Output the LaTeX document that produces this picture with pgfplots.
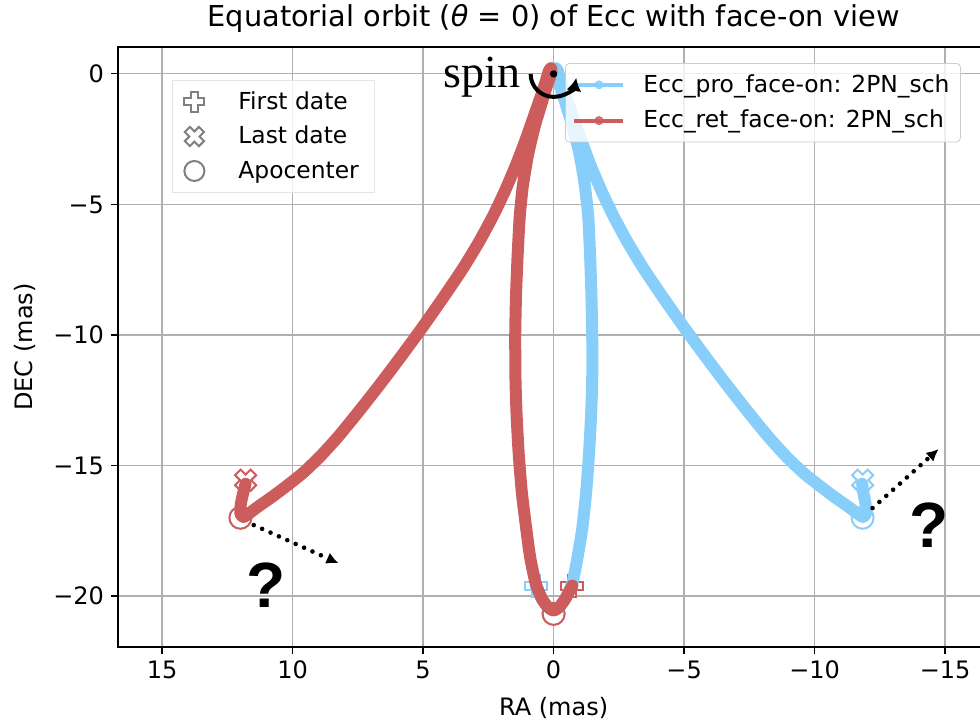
\documentclass[border=0pt]{standalone}
\usepackage{pgfplots}
\pgfplotsset{compat=1.18}
\usepackage{fontspec}
\setmainfont{DejaVu Sans}
\newfontfamily\spinfont{Liberation Serif}
\newfontfamily\qfont{Liberation Sans}
\usetikzlibrary{arrows.meta}
\definecolor{skyb}{RGB}{135,206,250}
\definecolor{indr}{RGB}{205,92,92}
\definecolor{mgray}{RGB}{128,128,128}

\pgfdeclareplotmark{Pplus}{%
  \pgfpathmoveto{\pgfqpoint{-0.36\pgfplotmarksize}{\pgfplotmarksize}}%
  \pgfpathlineto{\pgfqpoint{0.36\pgfplotmarksize}{\pgfplotmarksize}}%
  \pgfpathlineto{\pgfqpoint{0.36\pgfplotmarksize}{0.36\pgfplotmarksize}}%
  \pgfpathlineto{\pgfqpoint{\pgfplotmarksize}{0.36\pgfplotmarksize}}%
  \pgfpathlineto{\pgfqpoint{\pgfplotmarksize}{-0.36\pgfplotmarksize}}%
  \pgfpathlineto{\pgfqpoint{0.36\pgfplotmarksize}{-0.36\pgfplotmarksize}}%
  \pgfpathlineto{\pgfqpoint{0.36\pgfplotmarksize}{-\pgfplotmarksize}}%
  \pgfpathlineto{\pgfqpoint{-0.36\pgfplotmarksize}{-\pgfplotmarksize}}%
  \pgfpathlineto{\pgfqpoint{-0.36\pgfplotmarksize}{-0.36\pgfplotmarksize}}%
  \pgfpathlineto{\pgfqpoint{-\pgfplotmarksize}{-0.36\pgfplotmarksize}}%
  \pgfpathlineto{\pgfqpoint{-\pgfplotmarksize}{0.36\pgfplotmarksize}}%
  \pgfpathlineto{\pgfqpoint{-0.36\pgfplotmarksize}{0.36\pgfplotmarksize}}%
  \pgfpathclose
  \pgfusepathqfillstroke}
\pgfdeclareplotmark{Xcross}{\pgftransformrotate{45}\pgfuseplotmark{Pplus}}

\pgfplotstableread{
x y
0.69 -19.6
0.45 -20.1
0.22 -20.42
0 -20.55
-0.22 -20.42
-0.45 -20.1
-0.72 -19.5
-0.92 -18.5
-1.1 -17.4
-1.25 -16.0
-1.36 -14.5
-1.44 -13.0
-1.48 -11.7
-1.48 -10.0
-1.45 -8.5
-1.4 -7.0
-1.33 -5.5
-1.2 -4.3
-1.0 -3.1
-0.72 -2.0
-0.45 -1.1
-0.22 -0.4
-0.06 0.05
-0.08 0.22
-0.16 0.12
-0.3 -0.35
-0.5 -0.95
-0.78 -1.75
-1.08 -2.6
-1.42 -3.51
-1.82 -4.45
-2.27 -5.4
-2.82 -6.42
-3.47 -7.49
-4.22 -8.6
-5.02 -9.74
-5.82 -10.83
-6.62 -11.89
-7.42 -12.91
-8.22 -13.89
-8.92 -14.66
-9.57 -15.28
-10.17 -15.76
-10.77 -16.21
-11.27 -16.56
-11.62 -16.82
-11.85 -16.97
-11.97 -16.85
-11.95 -16.45
-11.86 -16.0
-11.82 -15.7
}\pro

\pgfplotstableread{
x y
-0.72 -19.6
-0.45 -20.1
-0.22 -20.42
0 -20.55
0.22 -20.42
0.45 -20.1
0.69 -19.5
0.9 -18.5
1.05 -17.4
1.22 -16.0
1.34 -14.5
1.42 -13.0
1.46 -11.7
1.47 -10.0
1.44 -8.5
1.38 -7.0
1.3 -5.5
1.18 -4.3
0.98 -3.1
0.72 -2.0
0.45 -1.1
0.24 -0.4
0.08 0.05
0.1 0.22
0.18 0.12
0.32 -0.35
0.52 -0.95
0.8 -1.75
1.1 -2.6
1.45 -3.51
1.85 -4.45
2.3 -5.4
2.85 -6.42
3.5 -7.49
4.25 -8.6
5.05 -9.74
5.85 -10.83
6.65 -11.89
7.45 -12.91
8.25 -13.89
8.95 -14.66
9.6 -15.28
10.2 -15.76
10.8 -16.21
11.3 -16.56
11.65 -16.82
11.88 -16.97
12.0 -16.85
11.98 -16.45
11.88 -16.0
11.8 -15.7
}\ret

\begin{document}
\begin{tikzpicture}
\begin{axis}[
  scale only axis, width=435.6pt, height=300pt,
  x dir=reverse,
  xmin=-16.69, xmax=16.69, ymin=-21.95, ymax=1.03,
  clip marker paths=true,
  font=\fontsize{12}{14.4}\selectfont,
  xtick={-15,-10,-5,0,5,10,15},
  xticklabels={−15,−10,−5,0,5,10,15},
  ytick={-20,-15,-10,-5,0},
  yticklabels={−20,−15,−10,−5,0},
  xtick pos=left,
  tick align=outside,
  major tick length=3.5pt,
  every tick/.style={black, line width=0.6pt},
  axis line style={line width=0.7pt},
  grid=major,
  grid style={line width=0.6pt, color=black!31},
  title={Equatorial orbit ({\itshape θ} = 0) of Ecc with face-on view},
  every axis title shift=0pt,
  every axis title/.style={at={(axis description cs:0.5,1)}, anchor=center, yshift=14.5pt, font=\fontsize{14.4}{17}\selectfont},
  xlabel={RA (mas)},
  every axis x label/.style={at={(axis description cs:0.5,0)}, anchor=center, yshift=-30.5pt},
  ylabel={DEC (mas)},
  every axis y label/.style={at={(axis description cs:0,0.5)}, anchor=center, xshift=-46.5pt, rotate=90},
  legend style={at={(axis description cs:0.5132,0.9733)}, anchor=north west,
    draw=black!20, rounded corners=2pt, fill=white, fill opacity=0.8, text opacity=1,
    inner xsep=3.5pt, inner ysep=3.5pt, row sep=3.5pt, column sep=7pt,
    font=\fontsize{11.7}{14}\selectfont},
  legend cell align=left,
]
% markers (below lines)
\addplot[only marks, mark=Pplus, mark size=5.5pt, draw=skyb, fill=white, line width=1pt, forget plot] coordinates {(0.69,-19.6)};
\addplot[only marks, mark=Pplus, mark size=5.5pt, draw=indr, fill=white, line width=1pt, forget plot] coordinates {(-0.72,-19.6)};
\addplot[only marks, mark=Xcross, mark size=5.5pt, draw=skyb, fill=white, line width=1pt, forget plot] coordinates {(-11.84,-15.56)};
\addplot[only marks, mark=Xcross, mark size=5.5pt, draw=indr, fill=white, line width=1pt, forget plot] coordinates {(11.8,-15.56)};
\addplot[only marks, mark=*, mark size=5.5pt, draw=skyb, fill=white, line width=1pt, forget plot] coordinates {(-11.84,-17.0) (0,-20.68)};
\addplot[only marks, mark=*, mark size=5.5pt, draw=indr, fill=white, line width=1pt, forget plot] coordinates {(12.0,-17.0) (0,-20.68)};
% orbits
\addplot[skyb, line width=6pt, line join=round, line cap=round, smooth, tension=0.35, forget plot] table {\pro};
\addplot[indr, line width=6pt, line join=round, line cap=round, smooth, tension=0.35, forget plot] table {\ret};
\addplot[only marks, mark=*, mark size=1.6pt, black, forget plot] coordinates {(0,0)};
% legend entries
\addlegendimage{legend image code/.code={\draw[skyb, line width=2pt] (0pt,0pt) -- (24.5pt,0pt); \fill[skyb] (12.25pt,0pt) circle (2pt);}}
\addlegendentry{Ecc\_pro\_face-on: 2PN\_sch}
\addlegendimage{legend image code/.code={\draw[indr, line width=2pt] (0pt,0pt) -- (24.5pt,0pt); \fill[indr] (12.25pt,0pt) circle (2pt);}}
\addlegendentry{Ecc\_ret\_face-on: 2PN\_sch}
\coordinate (O) at (axis cs:0,0);
\coordinate (S) at (axis cs:1.26,-0.54);
\coordinate (A1) at (axis cs:11.49,-17.28);
\coordinate (A2) at (axis cs:8.24,-18.74);
\coordinate (B1) at (axis cs:-12.22,-16.63);
\coordinate (B2) at (axis cs:-14.75,-14.37);
\coordinate (Q1) at (axis cs:11.03,-20.42);
\coordinate (Q2) at (axis cs:-14.37,-18.12);
\end{axis}
\begin{axis}[
  scale only axis, width=435.6pt, height=300pt,
  x dir=reverse,
  xmin=-16.69, xmax=16.69, ymin=-21.95, ymax=1.03,
  hide axis,
  legend style={at={(axis description cs:0.062,0.945)}, anchor=north west,
    draw=black!10, fill=white, fill opacity=0.8, text opacity=1,
    inner xsep=6pt, inner ysep=3.5pt, row sep=3pt, column sep=15pt,
    font=\fontsize{11.7}{14}\selectfont},
  legend cell align=left,
]
\addlegendimage{only marks, mark=Pplus, mark size=5pt, draw=mgray, fill=white, line width=1pt}
\addlegendentry{First date}
\addlegendimage{only marks, mark=Xcross, mark size=5pt, draw=mgray, fill=white, line width=1pt}
\addlegendentry{Last date}
\addlegendimage{only marks, mark=*, mark size=5pt, draw=mgray, fill=white, line width=1pt}
\addlegendentry{Apocenter}
\end{axis}
% annotations
\node[anchor=base east, font=\spinfont\fontsize{23}{23}\selectfont, inner sep=0pt] at (S) {spin};
\draw[line width=2pt, -{Latex[length=6.5pt,width=7.5pt]}] ([xshift=-11.5pt]O) arc[start angle=180, end angle=350, radius=11.5pt];
\draw[line width=2.3pt, line cap=round, dash pattern=on 0pt off 4.6pt, -{Latex[length=6pt,width=6pt]}] (A1) -- (A2);
\draw[line width=2.3pt, line cap=round, dash pattern=on 0pt off 4.6pt, -{Latex[length=6pt,width=6pt]}] (B1) -- (B2);
\node[anchor=base, font=\qfont\bfseries\fontsize{32}{32}\selectfont, inner sep=0pt] at (Q1) {?};
\node[anchor=base, font=\qfont\bfseries\fontsize{32}{32}\selectfont, inner sep=0pt] at (Q2) {?};
\pgfresetboundingbox
\useasboundingbox (-59pt,-39pt) rectangle (431pt,323.5pt);
\end{tikzpicture}
\end{document}
